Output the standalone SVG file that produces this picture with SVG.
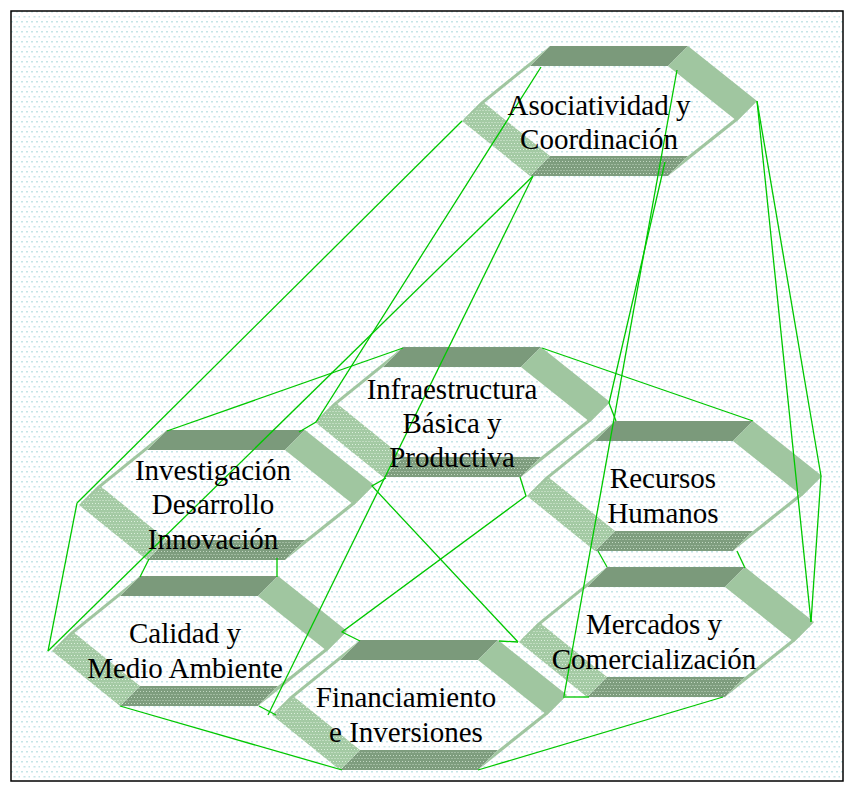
<svg xmlns="http://www.w3.org/2000/svg" xmlns:xlink="http://www.w3.org/1999/xlink" width="854" height="792" viewBox="0 0 854 792">
<style>
.t{font-family:"Liberation Serif","Times New Roman",serif;font-size:29px;fill:#000;text-anchor:middle}
.c{stroke:#00c800;stroke-width:1.3;fill:none}
.dk{fill:#7b9a7b}
.lt{fill:#a0c6a0}
</style>
<defs>
<pattern id="bgp" width="10" height="10" patternUnits="userSpaceOnUse">
<rect width="10" height="10" fill="#fff"/>
<rect x="1" y="1" width="2" height="1.5" fill="#c6e5e7"/>
<rect x="6" y="1" width="2" height="1.5" fill="#c6e5e7"/>
<rect x="3.5" y="6" width="2" height="1.5" fill="#c6e5e7"/>
<rect x="8.5" y="6" width="2" height="1.5" fill="#c6e5e7"/>
</pattern>
<pattern id="texD" width="6" height="6" patternUnits="userSpaceOnUse">
<rect width="6" height="6" fill="#7e9d7e"/>
<rect x="0" y="1" width="1" height="1" fill="#c2d8c2"/>
<rect x="3" y="1" width="1" height="1" fill="#c2d8c2"/>
<rect x="1.5" y="4" width="1" height="1" fill="#c2d8c2"/>
<rect x="4.5" y="4" width="1" height="1" fill="#c2d8c2"/>
</pattern>
<pattern id="texL" width="6" height="6" patternUnits="userSpaceOnUse">
<rect width="6" height="6" fill="#a4caa4"/>
<rect x="0" y="1" width="1" height="1" fill="#dcefdc"/>
<rect x="3" y="1" width="1" height="1" fill="#dcefdc"/>
<rect x="1.5" y="4" width="1" height="1" fill="#dcefdc"/>
<rect x="4.5" y="4" width="1" height="1" fill="#dcefdc"/>
</pattern>
<g id="hex">
<polygon points="138,110 0,110 -20,130 118,130" fill="url(#texD)"/>
<polygon points="0,110 -68,55 -88,75 -20,130" fill="url(#texL)"/>
<polygon class="dk" points="0,0 138,0 118,20 -20,20"/>
<polygon class="lt" points="138,0 207,55 187,75 118,20"/>
<polygon class="lt" points="207,55 138,110 118,130 187,75"/>
<polygon class="lt" points="-68,55 0,0 -20,20 -88,75"/>
</g>
</defs>
<rect x="0" y="0" width="854" height="792" fill="#fff"/>
<rect x="11" y="11" width="832" height="770" fill="url(#bgp)" stroke="#000" stroke-width="1.5"/>

<g id="asociatividad"><use xlink:href="#hex" transform="translate(550,46)"/></g>
<g id="infraestructura"><use xlink:href="#hex" transform="translate(403,347)"/></g>
<g id="investigacion"><use xlink:href="#hex" transform="translate(167,430)"/></g>
<g id="recursos"><use xlink:href="#hex" transform="translate(615,421)"/></g>
<g id="calidad"><use xlink:href="#hex" transform="translate(140,576)"/></g>
<g id="financiamiento"><use xlink:href="#hex" transform="translate(360,640)"/></g>
<g id="mercados"><use xlink:href="#hex" transform="translate(607,567)"/></g>

<g id="connectors">
<path class="c" d="M757,101 L821,476"/>
<path class="c" d="M757,101 L811,622"/>
<path class="c" d="M821,476 L811,622"/>
<path class="c" d="M462,121 L77,503"/>
<path class="c" d="M541,67 L316,422 L299,432"/>
<path class="c" d="M533,176 L48,651"/>
<path class="c" d="M533,176 L268,715"/>
<path class="c" d="M677,70 L564,696"/>
<path class="c" d="M665,162 L609,403 L616,421"/>
<path class="c" d="M403,348 L167,431"/>
<path class="c" d="M542,348 L753,421"/>
<path class="c" d="M77,503 L48,651"/>
<path class="c" d="M149,559 L140,577"/>
<path class="c" d="M277,558 L277,577"/>
<path class="c" d="M386,478 L372,486 L518,642"/>
<path class="c" d="M520,477 L526,496 L342,632 L360,641"/>
<path class="c" d="M499,641 L518,642"/>
<path class="c" d="M563,697 L589,697"/>
<path class="c" d="M598,551 L607,567"/>
<path class="c" d="M737,551 L745,568"/>
<path class="c" d="M120,706 L342,770"/>
<path class="c" d="M259,706 L276,715"/>
<path class="c" d="M478,770 L723,697"/>
</g>

<g id="labels">
<text class="t" x="599" y="115">Asociatividad y</text>
<text class="t" x="599" y="149">Coordinación</text>
<text class="t" x="452" y="399">Infraestructura</text>
<text class="t" x="452" y="433">Básica y</text>
<text class="t" x="452" y="467">Productiva</text>
<text class="t" x="213" y="480">Investigación</text>
<text class="t" x="213" y="514">Desarrollo</text>
<text class="t" x="213" y="549">Innovación</text>
<text class="t" x="663" y="488">Recursos</text>
<text class="t" x="663" y="523">Humanos</text>
<text class="t" x="185" y="643">Calidad y</text>
<text class="t" x="185" y="678">Medio Ambiente</text>
<text class="t" x="406" y="707">Financiamiento</text>
<text class="t" x="406" y="742">e Inversiones</text>
<text class="t" x="654" y="634">Mercados y</text>
<text class="t" x="654" y="669">Comercialización</text>
</g>
</svg>
